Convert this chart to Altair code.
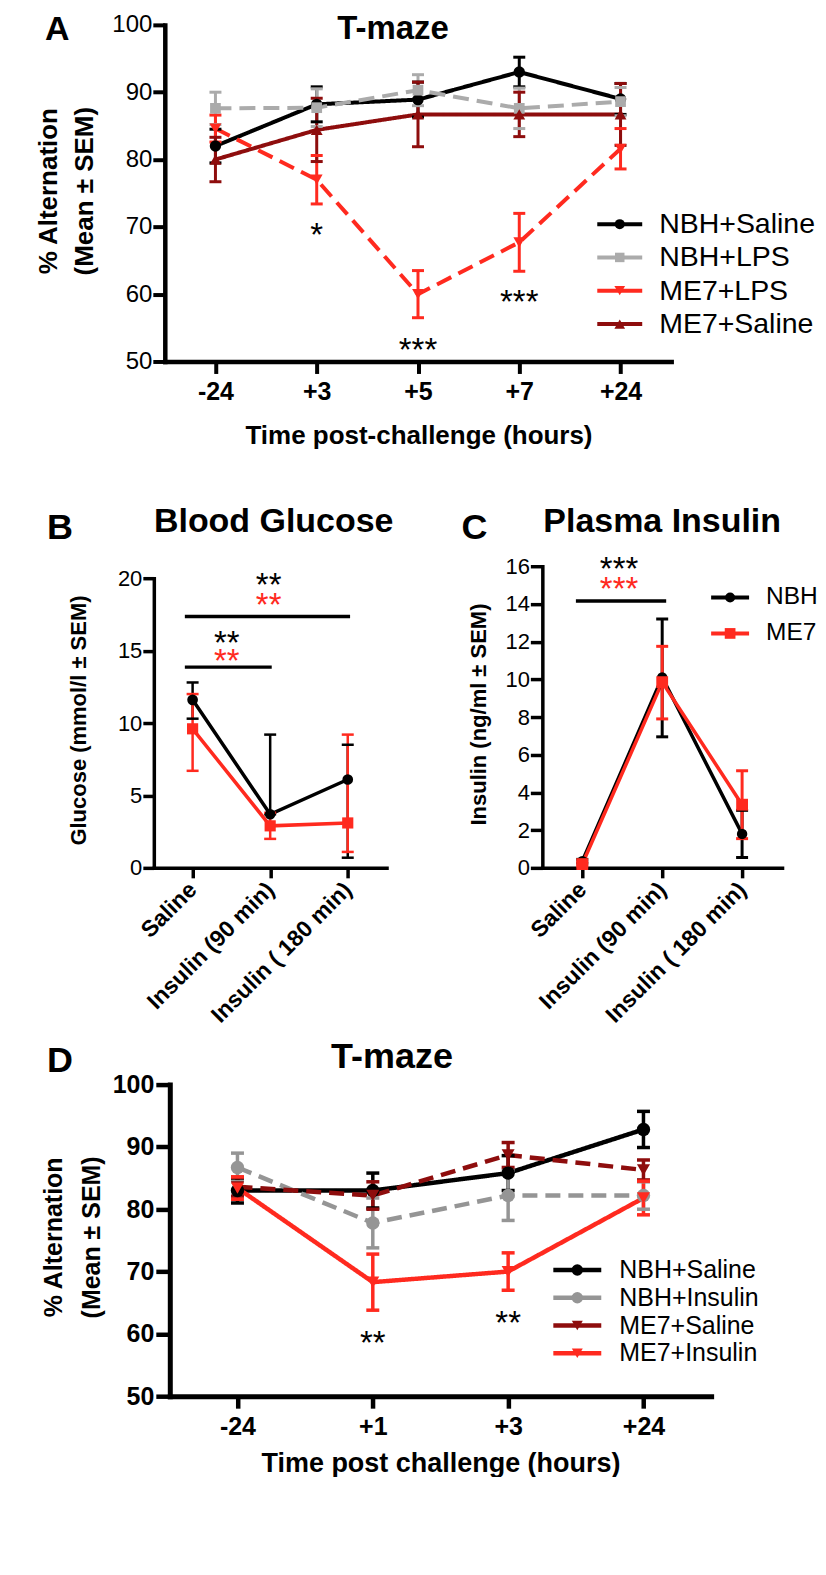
import json
import altair as alt
import pandas as pd

FONT = "Liberation Sans"
BLACK = "#000000"
RED = "#ff2a1f"
DARKRED = "#8e0d0d"
GRAY_A = "#ababab"
GRAY_D = "#959595"

# ---------------- data: panel A (T-maze, LPS) ----------------
A_TIMES = ["-24", "+3", "+5", "+7", "+24"]
A_SERIES = ["NBH+Saline", "NBH+LPS", "ME7+LPS", "ME7+Saline"]
A_NBH_SALINE = [82.0, 88.2, 88.9, 93.0, 89.0]
A_NBH_SALINE_SEM = [2.5, 2.6, 2.6, 2.2, 2.3]
A_NBH_LPS = [87.6, 87.7, 90.3, 87.6, 88.6]
A_NBH_LPS_SEM = [2.4, 2.8, 2.3, 3.0, 2.1]
A_ME7_LPS = [84.6, 77.0, 60.0, 67.7, 81.6]
A_ME7_LPS_SEM = [2.0, 3.6, 3.5, 4.3, 3.0]
A_ME7_SALINE = [80.0, 84.4, 86.7, 86.7, 86.7]
A_ME7_SALINE_SEM = [3.3, 4.7, 4.8, 3.3, 4.6]
A_STARS = ["*", "***", "***"]
A_STAR_X = [1, 2, 3]
A_STAR_Y = [69.9, 52.9, 60.0]

# ---------------- data: panel B (blood glucose) ----------------
BC_CATS = ["Saline", "Insulin (90 min)", "Insulin ( 180 min)"]
BC_GROUPS = ["NBH", "ME7"]
B_NBH = [11.6, 3.7, 6.1]
B_NBH_LO = [10.3, 3.7, 0.7]
B_NBH_HI = [12.8, 9.2, 8.5]
B_ME7 = [9.6, 2.9, 3.1]
B_ME7_LO = [6.7, 2.0, 1.1]
B_ME7_HI = [12.0, 3.8, 9.2]
B_BAR_FROM = [-0.1, -0.1]
B_BAR_TO = [2.03, 1.02]
B_BAR_Y = [17.35, 13.86]
B_STARS = ["**", "**", "**", "**"]
B_STAR_GROUP = ["NBH", "ME7", "NBH", "ME7"]
B_STAR_X = [0.98, 0.98, 0.44, 0.44]
B_STAR_Y = [20.1, 18.7, 16.1, 14.8]

# ---------------- data: panel C (plasma insulin) ----------------
C_NBH = [0.35, 10.1, 1.8]
C_NBH_LO = [0.25, 6.95, 0.55]
C_NBH_HI = [0.45, 13.2, 3.05]
C_ME7 = [0.2, 9.85, 3.35]
C_ME7_LO = [0.1, 7.9, 1.55]
C_ME7_HI = [0.3, 11.75, 5.15]
C_BAR_FROM = [-0.08]
C_BAR_TO = [1.05]
C_BAR_Y = [14.16]
C_STARS = ["***", "***"]
C_STAR_GROUP = ["NBH", "ME7"]
C_STAR_X = [0.46, 0.46]
C_STAR_Y = [16.3, 15.2]

# ---------------- data: panel D (T-maze, insulin) ----------------
D_TIMES = ["-24", "+1", "+3", "+24"]
D_SERIES = ["NBH+Saline", "NBH+Insulin", "ME7+Saline", "ME7+Insulin"]
D_NBH_SALINE = [83.0, 83.0, 85.8, 92.8]
D_NBH_SALINE_SEM = [2.0, 2.8, 2.8, 2.9]
D_NBH_INSULIN = [86.7, 77.8, 82.2, 82.2]
D_NBH_INSULIN_SEM = [2.3, 4.0, 4.0, 2.2]
D_ME7_SALINE = [83.6, 82.2, 88.7, 86.3]
D_ME7_SALINE_SEM = [1.5, 2.2, 2.0, 1.6]
D_ME7_INSULIN = [83.4, 68.3, 70.0, 81.8]
D_ME7_INSULIN_SEM = [1.8, 4.5, 3.0, 2.7]
D_STARS = ["**", "**"]
D_STAR_X = [1, 2]
D_STAR_Y = [59.8, 63.1]


# ---------------- helpers ----------------
def frame_sem(names, means, sems):
    rows = []
    for name, ms, es in zip(names, means, sems):
        for i, (m, e) in enumerate(zip(ms, es)):
            rows.append({"series": name, "x": i, "mean": m, "lo": m - e, "hi": m + e})
    return pd.DataFrame(rows)


def frame_lohi(names, means, los, his):
    rows = []
    for name, ms, ls, hs in zip(names, means, los, his):
        for i, (m, l, h) in enumerate(zip(ms, ls, hs)):
            rows.append({"series": name, "x": i, "mean": m, "lo": l, "hi": h})
    return pd.DataFrame(rows)


def axis(**kw):
    base = dict(grid=False, domainColor=BLACK, tickColor=BLACK, labelColor=BLACK,
                titleColor=BLACK, labelFont=FONT, titleFont=FONT, domainCap="square",
                labelFlush=False, labelOverlap=False, labelLimit=400)
    base.update(kw)
    return alt.Axis(**base)


def series_layers(df, X, Y, series, colors, dashes, shapes, sizes,
                  line_w, err_w, cap_w, cap_t):
    color = alt.Color("series:N", scale=alt.Scale(domain=series, range=colors), legend=None)
    base = alt.Chart(df)
    enc = dict(x=X("x"), y=Y("mean"), color=color, order="x:Q")
    if dashes is not None:
        enc["strokeDash"] = alt.StrokeDash("series:N",
                                           scale=alt.Scale(domain=series, range=dashes),
                                           legend=None)
    layers = [base.mark_line(strokeWidth=line_w).encode(**enc)]
    layers.append(base.mark_rule(strokeWidth=err_w).encode(
        x=X("x"), y=Y("lo"), y2="hi:Q", color=color))
    for f in ("lo", "hi"):
        layers.append(base.mark_tick(orient="horizontal", size=cap_w, thickness=cap_t,
                                     opacity=1).encode(x=X("x"), y=Y(f), color=color))
    for s, sh, sz in zip(series, shapes, sizes):
        layers.append(base.transform_filter(alt.datum.series == s)
                      .mark_point(filled=True, opacity=1, shape=sh, size=sz)
                      .encode(x=X("x"), y=Y("mean"), color=color))
    return layers


def legend_block(series, colors, shapes, sizes, x_range, y_range, fs, gap, line_w=4):
    """Key drawn from the series list: one row per series (line + marker + name)."""
    ldf = pd.DataFrame({"series": series, "row": list(range(len(series))),
                        "x0": 0.0, "x1": 1.0, "xm": 0.5})
    lsx = alt.Scale(domain=[0, 1], range=x_range, nice=False, zero=False)
    lsy = alt.Scale(domain=[0, max(len(series) - 1, 1)], range=y_range, nice=False, zero=False)
    LX = lambda f: alt.X(f"{f}:Q", scale=lsx, axis=None)
    LY = lambda f: alt.Y(f"{f}:Q", scale=lsy, axis=None)
    color = alt.Color("series:N", scale=alt.Scale(domain=series, range=colors), legend=None)
    base = alt.Chart(ldf)
    layers = [base.mark_rule(strokeWidth=line_w).encode(x=LX("x0"), x2="x1:Q", y=LY("row"),
                                                       color=color)]
    for s, sh, sz in zip(series, shapes, sizes):
        layers.append(base.transform_filter(alt.datum.series == s)
                      .mark_point(filled=True, opacity=1, shape=sh, size=sz)
                      .encode(x=LX("xm"), y=LY("row"), color=color))
    layers.append(base.mark_text(font=FONT, fontSize=fs, align="left", baseline="middle",
                                 dx=gap, color=BLACK)
                  .encode(x=LX("x1"), y=LY("row"), text="series:N"))
    return alt.layer(*layers)


def label_layer(text, x, y, size, align="left"):
    return alt.Chart(pd.DataFrame({"t": [text]})).mark_text(
        font=FONT, fontSize=size, fontWeight="bold", align=align, baseline="alphabetic",
        color=BLACK).encode(text="t:N", x=alt.value(x), y=alt.value(y))


STAR_FS = 33
STAR_DY = round(0.58 * STAR_FS)

# ---------------- panel A ----------------
a_df = frame_sem(A_SERIES, [A_NBH_SALINE, A_NBH_LPS, A_ME7_LPS, A_ME7_SALINE],
                 [A_NBH_SALINE_SEM, A_NBH_LPS_SEM, A_ME7_LPS_SEM, A_ME7_SALINE_SEM])
a_sx = alt.Scale(domain=[-0.5, len(A_TIMES) - 0.5], range=[11, 518], nice=False, zero=False)
a_sy = alt.Scale(domain=[50, 100], nice=False, zero=False)
a_ax = axis(values=list(range(len(A_TIMES))), labelExpr=json.dumps(A_TIMES) + "[datum.value]",
            labelFontSize=25, labelFontWeight="bold", tickSize=12, tickWidth=4, domainWidth=4.5,
            labelPadding=6, title="Time post-challenge (hours)", titleFontSize=26,
            titleFontWeight="bold", titleX=265, titleY=82, titleBaseline="alphabetic",
            titleAlign="center", titleAngle=0)
a_ay = axis(values=[50, 60, 70, 80, 90, 100], labelFontSize=24, labelFontWeight="normal",
            tickSize=12, tickWidth=4, domainWidth=4.5, labelPadding=1, offset=-11,
            title=["% Alternation", "(Mean \u00b1 SEM)"], titleFontSize=26,
            titleFontWeight="bold", titleLineHeight=36, titleX=-108, titleY=166,
            titleBaseline="alphabetic", titleAlign="center", titleAngle=-90)
AX = lambda f: alt.X(f"{f}:Q", scale=a_sx, axis=a_ax)
AY = lambda f: alt.Y(f"{f}:Q", scale=a_sy, axis=a_ay)
A_SHAPES = ["circle", "square", "triangle-down", "triangle-up"]
A_COLORS = [BLACK, GRAY_A, RED, DARKRED]

a_layers = series_layers(a_df, AX, AY, A_SERIES, A_COLORS,
                         [[1, 0], [16, 8], [16, 8], [1, 0]], A_SHAPES,
                         [130, 115, 140, 140], 4, 3, 12, 3)
a_star = pd.DataFrame({"x": A_STAR_X, "y": A_STAR_Y, "t": A_STARS})
a_layers.append(alt.Chart(a_star).mark_text(font=FONT, fontSize=STAR_FS, align="center",
                                             baseline="alphabetic", dy=STAR_DY, color=BLACK)
                .encode(x=AX("x"), y=AY("y"), text="t:N"))
a_layers.append(label_layer("A", -109, 15, 34))
a_layers.append(label_layer("T-maze", 239.5, 14, 33, "center"))
a_key = legend_block(A_SERIES, A_COLORS, A_SHAPES, [100, 90, 115, 115],
                     [444, 489], [199.5, 299.5], 28.5, 17)
panel_a = (alt.layer(alt.layer(*a_layers), a_key)
           .resolve_scale(x="independent", y="independent")
           .properties(width=518, height=337))

# ---------------- panel B ----------------
b_df = frame_lohi(BC_GROUPS, [B_NBH, B_ME7], [B_NBH_LO, B_ME7_LO], [B_NBH_HI, B_ME7_HI])
b_sx = alt.Scale(domain=[-0.5, len(BC_CATS) - 0.5], range=[0, 233], nice=False, zero=False)
b_sy = alt.Scale(domain=[0, 20], range=[302, 12], nice=False, zero=False)
cat_expr = json.dumps(BC_CATS) + "[datum.value]"
b_ax = axis(values=list(range(len(BC_CATS))), labelExpr=cat_expr, labelAngle=-45,
            labelAlign="right", labelBaseline="middle", labelFontSize=23,
            labelFontWeight="bold", tickSize=10, tickWidth=3.5, domainWidth=3.5,
            labelPadding=8, offset=-12, orient="bottom", title=None)
b_ay = axis(values=[0, 5, 10, 15, 20], labelFontSize=22, labelFontWeight="normal",
            tickSize=11, tickWidth=3.5, domainWidth=3.5, labelPadding=1, orient="left",
            title="Glucose (mmol/l \u00b1 SEM)", titleFontSize=22, titleFontWeight="bold",
            titleX=-68, titleY=154, titleBaseline="alphabetic", titleAlign="center",
            titleAngle=-90)
BX = lambda f: alt.X(f"{f}:Q", scale=b_sx, axis=b_ax)
BY = lambda f: alt.Y(f"{f}:Q", scale=b_sy, axis=b_ay)
bc_color = alt.Color("series:N", scale=alt.Scale(domain=BC_GROUPS, range=[BLACK, RED]),
                     legend=None)

b_layers = series_layers(b_df, BX, BY, BC_GROUPS, [BLACK, RED], None,
                         ["circle", "square"], [115, 125], 3.5, 2.5, 12, 2.5)
b_bar = pd.DataFrame({"x1": B_BAR_FROM, "x2": B_BAR_TO, "y": B_BAR_Y})
b_layers.append(alt.Chart(b_bar).mark_rule(strokeWidth=3.5, color=BLACK)
                .encode(x=BX("x1"), x2="x2:Q", y=BY("y")))
b_star = pd.DataFrame({"x": B_STAR_X, "y": B_STAR_Y, "t": B_STARS, "series": B_STAR_GROUP})
b_layers.append(alt.Chart(b_star).mark_text(font=FONT, fontSize=STAR_FS, align="center",
                                             baseline="alphabetic", dy=STAR_DY)
                .encode(x=BX("x"), y=BY("y"), text="t:N", color=bc_color))
b_layers.append(label_layer("B", -107, -27, 36))
b_layers.append(label_layer("Blood Glucose", 120, -34, 34, "center"))

# ---------------- panel C ----------------
c_df = frame_lohi(BC_GROUPS, [C_NBH, C_ME7], [C_NBH_LO, C_ME7_LO], [C_NBH_HI, C_ME7_HI])
c_sx = alt.Scale(domain=[-0.5, len(BC_CATS) - 0.5], range=[389, 629], nice=False, zero=False)
c_sy = alt.Scale(domain=[0, 16], range=[302, 0], nice=False, zero=False)
c_ax = axis(values=list(range(len(BC_CATS))), labelExpr=cat_expr, labelAngle=-45,
            labelAlign="right", labelBaseline="middle", labelFontSize=23,
            labelFontWeight="bold", tickSize=10, tickWidth=3.5, domainWidth=3.5,
            labelPadding=8, offset=-12, orient="bottom", title=None)
c_ay = axis(values=[0, 2, 4, 6, 8, 10, 12, 14, 16], labelFontSize=22,
            labelFontWeight="normal", tickSize=12, tickWidth=3.5, domainWidth=3.5,
            labelPadding=1, orient="left", offset=-389,
            title="Insulin (ng/ml \u00b1 SEM)", titleFontSize=22, titleFontWeight="bold",
            titleX=-57, titleY=148, titleBaseline="alphabetic", titleAlign="center",
            titleAngle=-90)
CX = lambda f: alt.X(f"{f}:Q", scale=c_sx, axis=c_ax)
CY = lambda f: alt.Y(f"{f}:Q", scale=c_sy, axis=c_ay)

c_layers = series_layers(c_df, CX, CY, BC_GROUPS, [BLACK, RED], None,
                         ["circle", "square"], [110, 140], 3.5, 3, 12, 3)
c_bar = pd.DataFrame({"x1": C_BAR_FROM, "x2": C_BAR_TO, "y": C_BAR_Y})
c_layers.append(alt.Chart(c_bar).mark_rule(strokeWidth=3.5, color=BLACK)
                .encode(x=CX("x1"), x2="x2:Q", y=CY("y")))
c_star = pd.DataFrame({"x": C_STAR_X, "y": C_STAR_Y, "t": C_STARS, "series": C_STAR_GROUP})
c_layers.append(alt.Chart(c_star).mark_text(font=FONT, fontSize=STAR_FS, align="center",
                                             baseline="alphabetic", dy=STAR_DY)
                .encode(x=CX("x"), y=CY("y"), text="t:N", color=bc_color))
c_layers.append(label_layer("C", 308, -27, 36))
c_layers.append(label_layer("Plasma Insulin", 509, -34, 34, "center"))
c_key = legend_block(BC_GROUPS, [BLACK, RED], ["circle", "square"], [100, 115],
                     [558, 596], [31.3, 67.3], 24.5, 17)

panel_bc = (alt.layer(alt.layer(*b_layers), alt.layer(*c_layers), c_key)
            .resolve_scale(x="independent", y="independent")
            .resolve_axis(x="independent", y="independent")
            .properties(width=629, height=314))

# ---------------- panel D ----------------
d_df = frame_sem(D_SERIES, [D_NBH_SALINE, D_NBH_INSULIN, D_ME7_SALINE, D_ME7_INSULIN],
                 [D_NBH_SALINE_SEM, D_NBH_INSULIN_SEM, D_ME7_SALINE_SEM, D_ME7_INSULIN_SEM])
d_sx = alt.Scale(domain=[-0.5, len(D_TIMES) - 0.5], range=[16, 558], nice=False, zero=False)
d_sy = alt.Scale(domain=[50, 100], nice=False, zero=False)
d_ax = axis(values=list(range(len(D_TIMES))), labelExpr=json.dumps(D_TIMES) + "[datum.value]",
            labelFontSize=25, labelFontWeight="bold", tickSize=12, tickWidth=4.5,
            domainWidth=5, labelPadding=6, title="Time post challenge (hours)",
            titleFontSize=27, titleFontWeight="bold", titleX=287, titleY=75,
            titleBaseline="alphabetic", titleAlign="center", titleAngle=0)
d_ay = axis(values=[50, 60, 70, 80, 90, 100], labelFontSize=25, labelFontWeight="bold",
            tickSize=14, tickWidth=4.5, domainWidth=5, labelPadding=2, offset=-16,
            title=["% Alternation", "(Mean \u00b1 SEM)"], titleFontSize=25,
            titleFontWeight="bold", titleLineHeight=38, titleX=-108, titleY=152.5,
            titleBaseline="alphabetic", titleAlign="center", titleAngle=-90)
DX = lambda f: alt.X(f"{f}:Q", scale=d_sx, axis=d_ax)
DY = lambda f: alt.Y(f"{f}:Q", scale=d_sy, axis=d_ay)
D_SHAPES = ["circle", "circle", "triangle-down", "triangle-down"]
D_COLORS = [BLACK, GRAY_D, DARKRED, RED]

d_layers = series_layers(d_df, DX, DY, D_SERIES, D_COLORS,
                         [[1, 0], [15, 8], [15, 8], [1, 0]], D_SHAPES,
                         [180, 180, 170, 170], 4.5, 3.5, 13, 3.5)
d_star = pd.DataFrame({"x": D_STAR_X, "y": D_STAR_Y, "t": D_STARS})
d_layers.append(alt.Chart(d_star).mark_text(font=FONT, fontSize=STAR_FS, align="center",
                                             baseline="alphabetic", dy=STAR_DY, color=BLACK)
                .encode(x=DX("x"), y=DY("y"), text="t:N"))
d_layers.append(label_layer("D", -107, -13, 36))
d_layers.append(label_layer("T-maze", 238.5, -17, 36, "center"))
d_key = legend_block(D_SERIES, D_COLORS, D_SHAPES, [130, 130, 120, 120],
                     [400, 448], [185.7, 269.0], 25, 18, 4.5)
panel_d = (alt.layer(alt.layer(*d_layers), d_key)
           .resolve_scale(x="independent", y="independent")
           .properties(width=558, height=312))

# ---------------- assemble ----------------
chart = (alt.vconcat(panel_a, panel_bc, panel_d, spacing=205, bounds="flush")
         .resolve_scale(x="independent", y="independent", color="independent",
                        shape="independent", strokeDash="independent")
         .properties(padding={"left": 28, "top": 4, "right": 0, "bottom": 0})
         .configure_view(stroke=None))

chart.save("out.html", embed_options={"renderer": "svg", "actions": False})
